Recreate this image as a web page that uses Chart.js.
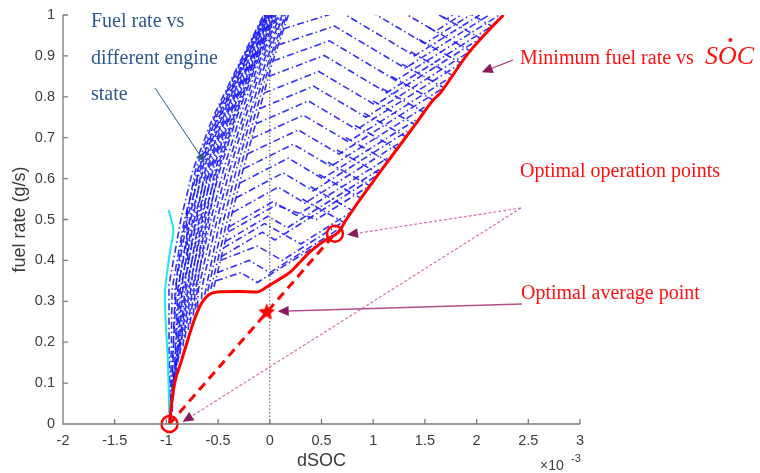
<!DOCTYPE html>
<html>
<head>
<meta charset="utf-8">
<script src="https://cdn.jsdelivr.net/npm/chart.js@4.4.1/dist/chart.umd.min.js"></script>
<style>
  html, body { margin: 0; padding: 0; background: #ffffff; }
  canvas { display: block; }
</style>
</head>
<body>
<canvas id="chart" width="760" height="473"></canvas>
<script>
// Axis ticks (dSOC in units of 1e-3, fuel rate in g/s)
const xTicks = [-2, -1.5, -1, -0.5, 0, 0.5, 1, 1.5, 2, 2.5, 3];
const yTicks = [0, 0.1, 0.2, 0.3, 0.4, 0.5, 0.6, 0.7, 0.8, 0.9, 1];

// Lower envelope: minimum fuel rate vs dSOC
const minFuelRate = [
  [-0.97, 0], [-0.95, 0.05], [-0.92, 0.1], [-0.86, 0.15], [-0.8, 0.2], [-0.73, 0.255],
  [-0.66, 0.295], [-0.59, 0.316], [-0.51, 0.323], [-0.3, 0.324], [-0.12, 0.323],
  [-0.03, 0.335], [0.08, 0.352], [0.2, 0.372], [0.3, 0.398], [0.4, 0.423], [0.52, 0.447],
  [0.6, 0.458], [0.66, 0.468], [0.74, 0.5], [0.87, 0.548], [1.04, 0.607], [1.2, 0.662],
  [1.4, 0.73], [1.58, 0.792], [1.65, 0.81], [1.9, 0.9], [2.1, 0.958], [2.26, 1.0]
];

// Idle / low-power boundary
const idleCurve = [
  [-0.97, 0], [-0.975, 0.05], [-0.985, 0.15], [-1.0, 0.22], [-1.01, 0.27], [-1.012, 0.33],
  [-0.995, 0.368], [-0.96, 0.43], [-0.932, 0.474], [-0.978, 0.523]
];

// Optimal operation points and the average point on the chord between them
const optimalPoints = [[-0.97, 0], [0.63, 0.465]];
const averagePoint = [[-0.03, 0.273]];
const averageChord = [[-0.97, 0], [-0.03, 0.273], [0.63, 0.465]];
const zeroLine = [[0, 0], [0, 1]];

// Fuel rate vs dSOC for different engine states: steep family
const steepCurves = [
  [[-0.965, 0.03], [-0.975, 0.2], [-0.975, 0.34], [-0.86, 0.5], [-0.745, 0.62], [-0.55, 0.75], [-0.30, 0.88], [-0.06, 1.0]],
  [[-0.96, 0.02], [-0.955, 0.15], [-0.945, 0.33], [-0.825, 0.5], [-0.70, 0.62], [-0.52, 0.75], [-0.28, 0.88], [-0.045, 1.0]],
  [[-0.955, 0.02], [-0.94, 0.15], [-0.915, 0.33], [-0.80, 0.5], [-0.675, 0.62], [-0.49, 0.75], [-0.255, 0.88], [-0.03, 1.0]],
  [[-0.95, 0.04], [-0.92, 0.15], [-0.89, 0.33], [-0.765, 0.5], [-0.645, 0.62], [-0.465, 0.75], [-0.24, 0.88], [-0.015, 1.0]],
  [[-0.945, 0.07], [-0.895, 0.18], [-0.865, 0.33], [-0.73, 0.5], [-0.61, 0.62], [-0.44, 0.75], [-0.21, 0.88], [0.0, 1.0]],
  [[-0.93, 0.11], [-0.875, 0.2], [-0.84, 0.33], [-0.705, 0.5], [-0.58, 0.62], [-0.41, 0.75], [-0.19, 0.88], [0.02, 1.0]],
  [[-0.89, 0.15], [-0.845, 0.23], [-0.81, 0.33], [-0.67, 0.5], [-0.55, 0.62], [-0.385, 0.75], [-0.17, 0.88], [0.035, 1.0]],
  [[-0.84, 0.19], [-0.78, 0.33], [-0.64, 0.5], [-0.515, 0.62], [-0.35, 0.75], [-0.15, 0.88], [0.05, 1.0]],
  [[-0.79, 0.23], [-0.75, 0.33], [-0.605, 0.5], [-0.485, 0.62], [-0.32, 0.75], [-0.13, 0.88], [0.07, 1.0]],
  [[-0.74, 0.265], [-0.72, 0.33], [-0.57, 0.5], [-0.45, 0.62], [-0.29, 0.75], [-0.11, 0.88], [0.085, 1.0]],
  [[-0.70, 0.285], [-0.69, 0.33], [-0.54, 0.5], [-0.42, 0.62], [-0.26, 0.75], [-0.09, 0.88], [0.10, 1.0]],
  [[-0.66, 0.305], [-0.655, 0.335], [-0.51, 0.5], [-0.39, 0.62], [-0.235, 0.75], [-0.07, 0.88], [0.12, 1.0]],
  [[-0.63, 0.315], [-0.48, 0.5], [-0.355, 0.62], [-0.205, 0.75], [-0.045, 0.88], [0.13, 1.0]],
  [[-0.60, 0.325], [-0.445, 0.5], [-0.325, 0.62], [-0.18, 0.75], [-0.02, 0.88], [0.15, 1.0]],
  [[-0.57, 0.33], [-0.41, 0.5], [-0.29, 0.62], [-0.15, 0.75], [0.0, 0.88], [0.165, 1.0]],
  [[-0.54, 0.335], [-0.38, 0.5], [-0.26, 0.62], [-0.12, 0.75], [0.02, 0.88], [0.18, 1.0]],
  [[-0.955, 0.01], [-0.93, 0.2], [-0.9, 0.36], [-0.85, 0.45], [-0.72, 0.62], [-0.535, 0.75], [-0.29, 0.88], [-0.05, 1.0]],
  [[-0.945, 0.03], [-0.905, 0.2], [-0.87, 0.36], [-0.81, 0.45], [-0.69, 0.62], [-0.505, 0.75], [-0.265, 0.88], [-0.035, 1.0]],
  [[-0.935, 0.06], [-0.885, 0.2], [-0.84, 0.36], [-0.78, 0.45], [-0.66, 0.62], [-0.48, 0.75], [-0.25, 0.88], [-0.02, 1.0]],
  [[-0.91, 0.12], [-0.86, 0.22], [-0.81, 0.36], [-0.75, 0.45], [-0.625, 0.62], [-0.45, 0.75], [-0.225, 0.88], [-0.005, 1.0]],
  [[-0.87, 0.17], [-0.83, 0.25], [-0.78, 0.36], [-0.72, 0.45], [-0.595, 0.62], [-0.425, 0.75], [-0.2, 0.88], [0.01, 1.0]],
  [[-0.82, 0.21], [-0.75, 0.36], [-0.69, 0.45], [-0.565, 0.62], [-0.395, 0.75], [-0.18, 0.88], [0.028, 1.0]],
  [[-0.77, 0.245], [-0.72, 0.36], [-0.66, 0.45], [-0.53, 0.62], [-0.365, 0.75], [-0.16, 0.88], [0.045, 1.0]],
  [[-0.72, 0.28], [-0.69, 0.36], [-0.63, 0.45], [-0.50, 0.62], [-0.335, 0.75], [-0.14, 0.88], [0.06, 1.0]],
  [[-0.80, 0.525], [-0.80, 0.45], [-0.79, 0.38]]
];

// Fuel rate vs dSOC for different engine states: chevron family (rise, peak, trough, rise to envelope)
const chevronCurves = [
  [[0.831, 1.122], [1.71, 0.99], [1.77, 1.0]],
  [[0.778, 1.083], [1.60, 0.96], [1.85, 1.0]],
  [[0.2, 1.004], [0.727, 1.046], [1.50, 0.93], [1.94, 1.0]],
  [[0.13, 0.966], [0.675, 1.009], [1.40, 0.90], [2.03, 1.0]],
  [[0.085, 0.927], [0.625, 0.973], [1.31, 0.87], [2.12, 1.0]],
  [[0.035, 0.888], [0.576, 0.937], [1.22, 0.84], [2.22, 1.0]],
  [[-0.01, 0.85], [0.526, 0.901], [1.13, 0.81], [2.13, 0.97]],
  [[-0.055, 0.809], [0.473, 0.862], [1.02, 0.78], [2.05, 0.945]],
  [[-0.10, 0.771], [0.423, 0.826], [0.93, 0.75], [1.93, 0.91]],
  [[-0.135, 0.734], [0.373, 0.79], [0.84, 0.72], [1.85, 0.882]],
  [[-0.175, 0.698], [0.325, 0.755], [0.76, 0.69], [1.75, 0.848]],
  [[-0.217, 0.66], [0.275, 0.719], [0.67, 0.66], [1.66, 0.819]],
  [[-0.255, 0.624], [0.227, 0.684], [0.59, 0.63], [1.51, 0.777]],
  [[-0.29, 0.589], [0.179, 0.65], [0.51, 0.60], [1.41, 0.743]],
  [[-0.325, 0.553], [0.129, 0.614], [0.42, 0.57], [1.33, 0.716]],
  [[-0.36, 0.517], [0.081, 0.579], [0.34, 0.54], [1.24, 0.685]],
  [[-0.395, 0.482], [0.033, 0.544], [0.26, 0.51], [1.15, 0.652]],
  [[-0.43, 0.446], [-0.017, 0.508], [0.17, 0.48], [1.07, 0.624]],
  [[-0.47, 0.409], [-0.071, 0.469], [0.05, 0.45], [1.02, 0.605]],
  [[-0.40, 0.47], [0.06, 0.535], [0.45, 0.50], [0.95, 0.58]],
  [[-0.45, 0.43], [-0.05, 0.49], [0.30, 0.44], [0.78, 0.517]],
  [[-0.48, 0.40], [-0.12, 0.435], [0.12, 0.40], [0.72, 0.496]],
  [[-0.51, 0.37], [-0.2, 0.40], [0.0, 0.37], [0.65, 0.474]],
  [[-0.52, 0.35], [-0.28, 0.37], [-0.12, 0.346], [0.52, 0.447]]
];

// Short high-load branches that end on the envelope
const envelopeTails = [
  [[0.315, 0.55], [0.715, 0.493]], [[0.394, 0.58], [0.794, 0.523]], [[0.476, 0.61], [0.876, 0.553]],
  [[0.562, 0.64], [0.962, 0.583]], [[0.649, 0.67], [1.049, 0.613]], [[0.736, 0.70], [1.136, 0.643]],
  [[0.824, 0.73], [1.224, 0.673]], [[0.912, 0.76], [1.312, 0.703]], [[1.0, 0.79], [1.40, 0.733]],
  [[1.087, 0.82], [1.487, 0.763]], [[1.174, 0.85], [1.574, 0.793]], [[1.278, 0.88], [1.678, 0.823]],
  [[1.361, 0.91], [1.761, 0.853]], [[1.444, 0.94], [1.844, 0.883]], [[1.534, 0.97], [1.934, 0.913]],
  [[1.638, 1.0], [2.038, 0.943]], [[1.746, 1.03], [2.146, 0.973]]
];

const pts = a => a.map(p => ({ x: p[0], y: p[1] }));

function starMarker(r, color) {
  const c = document.createElement('canvas');
  c.width = c.height = 2 * r + 2;
  const g = c.getContext('2d');
  g.fillStyle = color;
  g.beginPath();
  for (let i = 0; i < 10; i++) {
    const a = -Math.PI / 2 + i * Math.PI / 5;
    const rr = i % 2 ? r * 0.45 : r;
    g.lineTo(r + 1 + rr * Math.cos(a), r + 1 + rr * Math.sin(a));
  }
  g.closePath();
  g.fill();
  return c;
}

const blue = {
  showLine: true, pointRadius: 0, borderColor: 'rgba(25,25,250,0.9)',
  borderWidth: 1.6, borderDash: [7, 3, 1.5, 3], tension: 0, fill: false
};

const datasets = [
  { data: pts(optimalPoints), showLine: false, pointStyle: 'circle', pointRadius: 8,
    borderColor: '#ff0000', borderWidth: 2.5, backgroundColor: 'rgba(0,0,0,0)', clip: false },
  { data: pts(averagePoint), showLine: false, pointStyle: starMarker(9, '#ff0000'), pointRadius: 9, clip: false },
  { data: pts(averageChord), showLine: true, pointRadius: 0, borderColor: '#ff0000',
    borderWidth: 3, borderDash: [9, 6] },
  { data: pts(minFuelRate), showLine: true, pointRadius: 0, borderColor: '#ff0000',
    borderWidth: 3, cubicInterpolationMode: 'monotone' },
  { data: pts(zeroLine), showLine: true, pointRadius: 0, borderColor: '#555555',
    borderWidth: 1, borderDash: [1.5, 2] },
  { data: pts(idleCurve), showLine: true, pointRadius: 0, borderColor: '#1ee6f2',
    borderWidth: 2, tension: 0.3 }
];
[steepCurves, chevronCurves, envelopeTails].forEach(group =>
  group.forEach(c => datasets.push(Object.assign({ data: pts(c) }, blue))));

const AXIS = '#7a7a7a';
const LABEL = '#3c3c3c';

function arrow(ctx, x1, y1, x2, y2, opt) {
  const ang = Math.atan2(y2 - y1, x2 - x1);
  const hl = opt.head || 9, hw = opt.headW || 4;
  const bx = x2 - hl * Math.cos(ang), by = y2 - hl * Math.sin(ang);
  ctx.save();
  ctx.strokeStyle = opt.line;
  ctx.lineWidth = opt.width || 1;
  ctx.setLineDash(opt.dash || []);
  ctx.beginPath();
  ctx.moveTo(x1, y1);
  ctx.lineTo(bx, by);
  ctx.stroke();
  ctx.setLineDash([]);
  ctx.fillStyle = opt.headColor || opt.line;
  ctx.beginPath();
  ctx.moveTo(x2, y2);
  ctx.lineTo(bx + hw * Math.sin(ang), by - hw * Math.cos(ang));
  ctx.lineTo(bx - hw * Math.sin(ang), by + hw * Math.cos(ang));
  ctx.closePath();
  ctx.fill();
  ctx.restore();
}

const decorations = {
  id: 'decorations',
  afterDraw(chart) {
    const ctx = chart.ctx;
    const xs = chart.scales.x, ys = chart.scales.y;
    const X = v => xs.getPixelForValue(v), Y = v => ys.getPixelForValue(v);

    // axes with inward tick marks
    ctx.save();
    ctx.strokeStyle = AXIS;
    ctx.lineWidth = 1.3;
    ctx.beginPath();
    ctx.moveTo(xs.left, ys.top);
    ctx.lineTo(xs.left, ys.bottom);
    ctx.lineTo(xs.right, ys.bottom);
    xTicks.forEach(v => { ctx.moveTo(X(v), ys.bottom); ctx.lineTo(X(v), ys.bottom - 5); });
    yTicks.forEach(v => { ctx.moveTo(xs.left, Y(v)); ctx.lineTo(xs.left + 5, Y(v)); });
    ctx.stroke();

    // axis titles
    ctx.fillStyle = LABEL;
    ctx.font = '18px "Liberation Sans", Arial, sans-serif';
    ctx.textAlign = 'center';
    ctx.textBaseline = 'middle';
    ctx.fillText('dSOC', (xs.left + xs.right) / 2, 461);
    ctx.save();
    ctx.translate(20, (ys.top + ys.bottom) / 2);
    ctx.rotate(-Math.PI / 2);
    ctx.fillText('fuel rate (g/s)', 0, 0);
    ctx.restore();
    ctx.textAlign = 'left';
    ctx.textBaseline = 'alphabetic';
    ctx.font = '14px "Liberation Sans", Arial, sans-serif';
    ctx.fillText('\u00d710', 540, 470);
    ctx.font = '11px "Liberation Sans", Arial, sans-serif';
    ctx.fillText('-3', 571, 462);

    // annotation: engine-state family
    ctx.fillStyle = '#2e5b8c';
    ctx.font = '20px "Liberation Serif", "Times New Roman", serif';
    ctx.fillText('Fuel rate vs', 91, 27);
    ctx.fillText('different engine', 91, 64);
    ctx.fillText('state', 91, 100);
    arrow(ctx, 155, 88, X(-0.63), Y(0.64), { line: '#2e5b8c', width: 1, head: 9, headW: 4 });

    // annotation: minimum fuel rate
    ctx.fillStyle = '#ff1010';
    ctx.font = '20px "Liberation Serif", "Times New Roman", serif';
    ctx.fillText('Minimum fuel rate vs', 520, 64);
    ctx.font = 'italic 26px "Liberation Serif", "Times New Roman", serif';
    const sx = 705;
    ctx.fillText('SOC', sx, 64);
    const wS = ctx.measureText('S').width, wO = ctx.measureText('O').width;
    ctx.beginPath();
    ctx.arc(sx + wS + wO / 2 + 3, 40, 2, 0, Math.PI * 2);
    ctx.fill();
    arrow(ctx, 513, 60, X(2.05), Y(0.86), { line: '#a33077', headColor: '#8b1a5e', width: 1.2, head: 11, headW: 5 });

    // annotation: optimal operation points
    ctx.fillStyle = '#ff1010';
    ctx.font = '20px "Liberation Serif", "Times New Roman", serif';
    ctx.fillText('Optimal operation points', 520, 177);
    const op = optimalPoints;
    arrow(ctx, 521, 208, X(op[1][0]) + 12, Y(op[1][1]) + 1,
      { line: '#d070b0', headColor: '#8b1a5e', width: 1.2, dash: [3, 2], head: 11, headW: 5 });
    arrow(ctx, 521, 208, X(op[0][0]) + 13, Y(op[0][1]) - 2,
      { line: '#d070b0', headColor: '#8b1a5e', width: 1.2, dash: [3, 2], head: 11, headW: 5 });

    // annotation: optimal average point
    ctx.fillText('Optimal average point', 521, 299);
    arrow(ctx, 522, 304, X(averagePoint[0][0]) + 11, Y(averagePoint[0][1]) - 1,
      { line: '#b44f8e', headColor: '#8b1a5e', width: 1.3, head: 11, headW: 5 });
    ctx.restore();
  }
};

new Chart(document.getElementById('chart'), {
  type: 'scatter',
  data: { datasets },
  options: {
    responsive: false,
    animation: false,
    devicePixelRatio: 1,
    layout: { padding: { left: 0, right: 180, top: 15, bottom: 0 } },
    plugins: { legend: { display: false }, tooltip: { enabled: false } },
    scales: {
      x: {
        type: 'linear', min: -2, max: 3,
        grid: { display: false }, border: { display: false },
        afterBuildTicks: s => { s.ticks = xTicks.map(v => ({ value: v })); },
        afterFit: s => { s.height = 49; },
        ticks: {
          color: LABEL, padding: 0, maxRotation: 0, autoSkip: false,
          font: { family: '"Liberation Sans", Arial, sans-serif', size: 14.5 },
          callback: v => String(v)
        }
      },
      y: {
        type: 'linear', min: 0, max: 1,
        grid: { display: false }, border: { display: false },
        afterBuildTicks: s => { s.ticks = yTicks.map(v => ({ value: v })); },
        afterFit: s => { s.width = 63; },
        ticks: {
          color: LABEL, padding: 0, autoSkip: false,
          font: { family: '"Liberation Sans", Arial, sans-serif', size: 14.5 },
          callback: v => String(v)
        }
      }
    }
  },
  plugins: [decorations]
});
</script>
</body>
</html>
